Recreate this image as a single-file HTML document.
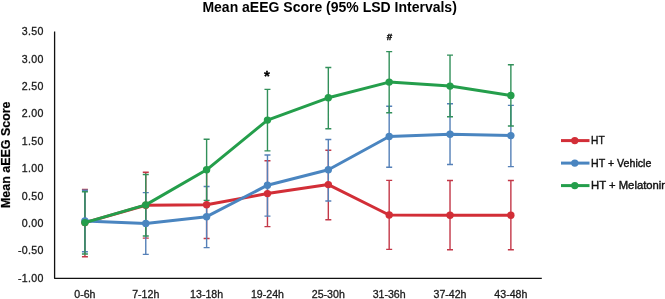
<!DOCTYPE html>
<html><head><meta charset="utf-8"><style>
html,body{margin:0;padding:0;background:#fff;}
body{width:665px;height:299px;overflow:hidden;}
svg{display:block;filter:blur(0.3px);}
text{font-family:"Liberation Sans",sans-serif;fill:#1a1a1a;}
.tk{font-size:10.6px;fill:#1a1a1a;stroke:#1a1a1a;stroke-width:0.3px;}
.lg{font-size:10.8px;fill:#111;stroke:#111;stroke-width:0.4px;}
.ti{font-size:14px;font-weight:bold;fill:#000;}
.yl{font-size:12px;font-weight:bold;fill:#000;stroke:#000;stroke-width:0.2px;}
.an{font-size:11px;font-weight:bold;fill:#000;}
</style></head><body>
<svg width="665" height="299" viewBox="0 0 665 299">
<rect width="665" height="299" fill="#fff"/>
<text x="202.4" y="11.6" class="ti">Mean aEEG Score (95% LSD Intervals)</text>
<text transform="translate(10.4,208) rotate(-90)" class="yl" textLength="106.5" lengthAdjust="spacingAndGlyphs">Mean aEEG Score</text>
<text x="43.8" y="35.10" text-anchor="end" class="tk" letter-spacing="0.35">3.50</text>
<text x="43.8" y="62.50" text-anchor="end" class="tk" letter-spacing="0.35">3.00</text>
<text x="43.8" y="89.90" text-anchor="end" class="tk" letter-spacing="0.35">2.50</text>
<text x="43.8" y="117.30" text-anchor="end" class="tk" letter-spacing="0.35">2.00</text>
<text x="43.8" y="144.70" text-anchor="end" class="tk" letter-spacing="0.35">1.50</text>
<text x="43.8" y="172.10" text-anchor="end" class="tk" letter-spacing="0.35">1.00</text>
<text x="43.8" y="199.50" text-anchor="end" class="tk" letter-spacing="0.35">0.50</text>
<text x="43.8" y="226.90" text-anchor="end" class="tk" letter-spacing="0.35">0.00</text>
<text x="43.8" y="254.30" text-anchor="end" class="tk" letter-spacing="0.35">-0.50</text>
<text x="43.8" y="281.70" text-anchor="end" class="tk" letter-spacing="0.35">-1.00</text>
<text x="84.92" y="297.5" text-anchor="middle" class="tk">0-6h</text>
<text x="145.77" y="297.5" text-anchor="middle" class="tk">7-12h</text>
<text x="206.62" y="297.5" text-anchor="middle" class="tk">13-18h</text>
<text x="267.47" y="297.5" text-anchor="middle" class="tk">19-24h</text>
<text x="328.32" y="297.5" text-anchor="middle" class="tk">25-30h</text>
<text x="389.18" y="297.5" text-anchor="middle" class="tk">31-36h</text>
<text x="450.02" y="297.5" text-anchor="middle" class="tk">37-42h</text>
<text x="510.87" y="297.5" text-anchor="middle" class="tk">43-48h</text>
<path d="M54.6 31.4V278.3H541.8" stroke="#111" stroke-width="1.3" fill="none" stroke-linejoin="round"/>
<path d="M84.92 189.50V256.70M81.92 189.50H87.92M81.92 256.70H87.92M145.77 172.20V238.10M142.77 172.20H148.77M142.77 238.10H148.77M206.62 171.00V238.50M203.62 171.00H209.62M203.62 238.50H209.62M267.47 160.70V226.60M264.47 160.70H270.47M264.47 226.60H270.47M328.32 150.20V219.70M325.32 150.20H331.32M325.32 219.70H331.32M389.18 180.40V249.40M386.18 180.40H392.18M386.18 249.40H392.18M450.02 180.50V249.80M447.02 180.50H453.02M447.02 249.80H453.02M510.87 180.50V249.80M507.87 180.50H513.88M507.87 249.80H513.88" stroke="#C33848" stroke-width="1.4" fill="none"/>
<path d="M84.92 190.30V251.70M81.92 190.30H87.92M81.92 251.70H87.92M145.77 192.60V254.40M142.77 192.60H148.77M142.77 254.40H148.77M206.62 186.50V247.60M203.62 186.50H209.62M203.62 247.60H209.62M267.47 155.00V216.10M264.47 155.00H270.47M264.47 216.10H270.47M328.32 139.50V201.00M325.32 139.50H331.32M325.32 201.00H331.32M389.18 106.20V167.20M386.18 106.20H392.18M386.18 167.20H392.18M450.02 103.80V164.50M447.02 103.80H453.02M447.02 164.50H453.02M510.87 105.40V166.60M507.87 105.40H513.88M507.87 166.60H513.88" stroke="#5580B8" stroke-width="1.4" fill="none"/>
<path d="M84.92 191.70V254.00M81.92 191.70H87.92M81.92 254.00H87.92M145.77 174.50V236.00M142.77 174.50H148.77M142.77 236.00H148.77M206.62 139.30V200.40M203.62 139.30H209.62M203.62 200.40H209.62M267.47 89.40V150.90M264.47 89.40H270.47M264.47 150.90H270.47M328.32 67.50V128.70M325.32 67.50H331.32M325.32 128.70H331.32M389.18 51.60V112.80M386.18 51.60H392.18M386.18 112.80H392.18M450.02 55.10V116.70M447.02 55.10H453.02M447.02 116.70H453.02M510.87 64.70V126.00M507.87 64.70H513.88M507.87 126.00H513.88" stroke="#32905A" stroke-width="1.4" fill="none"/>
<polyline points="84.92,222.60 145.77,205.20 206.62,204.80 267.47,193.60 328.32,184.60 389.18,215.00 450.02,215.20 510.87,215.20" stroke="#D22E37" stroke-width="3.0" fill="none" stroke-linejoin="round" stroke-linecap="round"/>
<circle cx="84.92" cy="222.60" r="3.7" fill="#D22E37"/>
<circle cx="145.77" cy="205.20" r="3.7" fill="#D22E37"/>
<circle cx="206.62" cy="204.80" r="3.7" fill="#D22E37"/>
<circle cx="267.47" cy="193.60" r="3.7" fill="#D22E37"/>
<circle cx="328.32" cy="184.60" r="3.7" fill="#D22E37"/>
<circle cx="389.18" cy="215.00" r="3.7" fill="#D22E37"/>
<circle cx="450.02" cy="215.20" r="3.7" fill="#D22E37"/>
<circle cx="510.87" cy="215.20" r="3.7" fill="#D22E37"/>
<polyline points="84.92,221.00 145.77,223.40 206.62,216.70 267.47,185.20 328.32,169.80 389.18,136.50 450.02,134.20 510.87,135.60" stroke="#4A85C0" stroke-width="3.0" fill="none" stroke-linejoin="round" stroke-linecap="round"/>
<circle cx="84.92" cy="221.00" r="3.7" fill="#4A85C0"/>
<circle cx="145.77" cy="223.40" r="3.7" fill="#4A85C0"/>
<circle cx="206.62" cy="216.70" r="3.7" fill="#4A85C0"/>
<circle cx="267.47" cy="185.20" r="3.7" fill="#4A85C0"/>
<circle cx="328.32" cy="169.80" r="3.7" fill="#4A85C0"/>
<circle cx="389.18" cy="136.50" r="3.7" fill="#4A85C0"/>
<circle cx="450.02" cy="134.20" r="3.7" fill="#4A85C0"/>
<circle cx="510.87" cy="135.60" r="3.7" fill="#4A85C0"/>
<polyline points="84.92,222.60 145.77,204.90 206.62,169.80 267.47,120.10 328.32,97.80 389.18,82.10 450.02,86.10 510.87,95.40" stroke="#249E4B" stroke-width="3.0" fill="none" stroke-linejoin="round" stroke-linecap="round"/>
<circle cx="84.92" cy="222.60" r="3.7" fill="#249E4B"/>
<circle cx="145.77" cy="204.90" r="3.7" fill="#249E4B"/>
<circle cx="206.62" cy="169.80" r="3.7" fill="#249E4B"/>
<circle cx="267.47" cy="120.10" r="3.7" fill="#249E4B"/>
<circle cx="328.32" cy="97.80" r="3.7" fill="#249E4B"/>
<circle cx="389.18" cy="82.10" r="3.7" fill="#249E4B"/>
<circle cx="450.02" cy="86.10" r="3.7" fill="#249E4B"/>
<circle cx="510.87" cy="95.40" r="3.7" fill="#249E4B"/>
<text x="266.87" y="80.9" text-anchor="middle" class="an" style="font-size:15px;stroke:#000;stroke-width:0.3px">*</text>
<text x="389.38" y="40" text-anchor="middle" class="an" style="font-size:9.8px;stroke:#000;stroke-width:0.4px">#</text>
<line x1="561" y1="140.6" x2="589.5" y2="140.6" stroke="#D22E37" stroke-width="3.0"/>
<circle cx="574.8" cy="140.6" r="3.7" fill="#D22E37"/>
<text x="591.1" y="144.40" class="lg" textLength="13.6" lengthAdjust="spacingAndGlyphs">HT</text>
<line x1="561" y1="163.1" x2="589.5" y2="163.1" stroke="#4A85C0" stroke-width="3.0"/>
<circle cx="574.8" cy="163.1" r="3.7" fill="#4A85C0"/>
<text x="591.1" y="166.90" class="lg" textLength="60.2" lengthAdjust="spacingAndGlyphs">HT + Vehicle</text>
<line x1="561" y1="185.6" x2="589.5" y2="185.6" stroke="#249E4B" stroke-width="3.0"/>
<circle cx="574.8" cy="185.6" r="3.7" fill="#249E4B"/>
<text x="591.1" y="189.40" class="lg" textLength="76.5" lengthAdjust="spacingAndGlyphs">HT + Melatonin</text>
</svg>
</body></html>
